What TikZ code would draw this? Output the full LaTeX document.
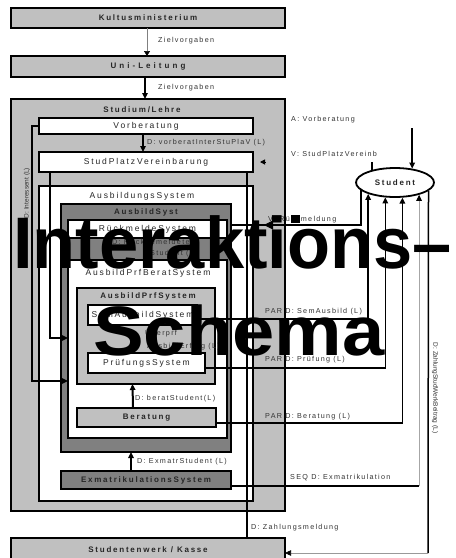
\documentclass[tikz,border=0pt]{standalone}
\usepackage{fontspec}
\usetikzlibrary{arrows.meta,shapes.geometric,calc}
\newfontfamily\boxfont[LetterSpace=22]{Liberation Sans}
\newfontfamily\lblfont[LetterSpace=18]{Liberation Sans}
\newfontfamily\sidefont{Liberation Sans}
\newfontfamily\bigfont{Liberation Sans}
\definecolor{lgray}{HTML}{C0C0C0}
\definecolor{dgray}{HTML}{808080}
\definecolor{txtgray}{HTML}{333333}
\begin{document}
\begin{tikzpicture}[x=1pt,y=-1pt,
  sys/.style 2 args={draw=black,line width=1.8pt,minimum width=#1,minimum height=#2,inner sep=0pt,outer sep=0pt},
  ttl/.style={font=\boxfont\bfseries\fontsize{8}{9}\selectfont,text=black!85},
  nrm/.style={font=\boxfont\fontsize{8.5}{10}\selectfont,text=black!85},
  lbl/.style={font=\lblfont\fontsize{7.2}{8}\selectfont,text=txtgray,anchor=west,inner sep=0pt},
  side/.style={font=\sidefont\fontsize{6.5}{8}\selectfont,text=txtgray,inner sep=0pt},
  tip/.style={-{Triangle[length=6pt,width=5.5pt]}},
  conn/.style={line width=1.5pt,draw=black},
  bigtxt/.style={font=\bigfont\bfseries\fontsize{73}{73}\selectfont,anchor=base west,inner sep=0pt,transform shape}
]
\useasboundingbox (0,0) rectangle (456,558);
\fill[white] (0,0) rectangle (456,558);

% top level institutions
\node[sys={274}{20},fill=lgray,ttl] (kultus) at (148,18) {Kultusministerium};
\node[sys={274}{21},fill=lgray,ttl] (uni) at (148,66.5) {\addfontfeature{LetterSpace=38}Uni-Leitung};

% Studium/Lehre with its subsystems
\node[sys={274}{412},fill=lgray] (studium) at (148,305) {};
\node[ttl] (studium-t) at (142,110) {Studium/Lehre};
\node[sys={214}{16},fill=white,nrm] (vorb) at (146,126) {Vorberatung};
\node[sys={214}{20},fill=white,nrm] (studplatz) at (146,162) {StudPlatzVereinbarung};
\node[sys={214}{315},fill=white] (ausb) at (146,343.5) {};
\node[nrm] (ausb-t) at (142,196) {AusbildungsSystem};
\node[sys={170}{248},fill=dgray] (ausbsyst) at (146,328) {};
\node[ttl] (ausbsyst-t) at (146,212) {AusbildSyst};
\node[sys={159}{18},fill=white,nrm] (rueck) at (147.5,229) {RückmeldeSystem};
\node[lbl] (rueck-l1) at (112,243) {D: Rückgemeldeter};
\node[lbl] (rueck-l2) at (150,254) {Student (L)};
\node[sys={159}{178},fill=white] (prfberat) at (147.5,349) {};
\node[nrm] (prfberat-t) at (148,273) {AusbildPrfBeratSystem};
\node[sys={138}{96},fill=lgray] (prfsys) at (146,336) {};
\node[ttl] (prfsys-t) at (148,296) {AusbildPrfSystem};
\node[sys={109}{20},fill=white,nrm] (semaus) at (142.5,315) {SemAusbildSystem};
\node[lbl] (ueb-l1) at (145,333) {Überprf};
\node[lbl] (ueb-l2) at (147,347) {AusbildErfolg (L)};
\node[sys={117}{20},fill=white,nrm] (pruef) at (146.5,363) {PrüfungsSystem};
\node[sys={139}{19},fill=lgray,ttl] (berat) at (146.5,417.5) {Beratung};
\node[sys={170}{18},fill=dgray,ttl] (exmatr) at (146,480) {ExmatrikulationsSystem};
\node[sys={274}{24},fill=lgray,ttl] (stw) at (148,550) {Studentenwerk / Kasse};

\node[ellipse,draw=black,line width=1.8pt,minimum width=78,minimum height=29,inner sep=0pt,fill=white,ttl] (student) at (395,182.5) {Student};

% goals from above
\draw[line width=0.6pt,draw=gray,-{Triangle[length=5pt,width=6pt,color=black]}] ([xshift=-1pt]kultus.south) -- ([xshift=-1pt]uni.north);
\node[lbl] (zv1) at (158,41) {Zielvorgaben};
\draw[line width=2.6pt,tip] ([xshift=-3pt]uni.south) -- ([xshift=-3pt]studium.north);
\node[lbl] (zv2) at (158,88) {Zielvorgaben};

\draw[conn,tip] ([xshift=-3pt]vorb.south) -- ([xshift=-3pt]studplatz.north);
\node[lbl] (vorb-l) at (147,143) {D: vorberatInterStuPlaV (L)};

% student interactions (top)
\coordinate (sin) at (411,128);
\draw[conn,tip] (student.39.5 |- sin) -- (student.39.5);
\node[lbl] (a-vorb) at (291,120) {A: Vorberatung};
\node[lbl] (v-stud) at (291,154) {V: StudPlatzVereinb};
\coordinate (sv) at (373,162);
\draw[conn] (student.151.4) -- (student.151.4 |- sv);
\coordinate (svtip) at (260,162);
\draw[line width=1pt,{Triangle[length=5pt,width=5pt]}-] (svtip) -- ++(5,0);

% left feeds into the training system
\coordinate (l1) at (32,381);
\draw[conn,tip] (vorb.west) -| (l1) -- (l1 -| prfberat.west);
\node[side,rotate=90] (interessent) at (27,193) {D: Interessent (L)};
\coordinate (l2) at (50,338);
\draw[conn,tip] (studplatz.south -| l2) -- (l2) -- (l2 -| prfberat.west);

% inner arrows
\draw[line width=2pt,tip] ([xshift=-13.5pt]berat.north) -- ([xshift=-13.5pt]prfsys.south);
\node[lbl] (berat-l) at (135,399) {D: beratStudent(L)};
\draw[line width=2pt,tip] ([xshift=-15pt]exmatr.north) -- ([xshift=-15pt]ausbsyst.south);
\node[lbl] (exmatr-l) at (137,462) {D: ExmatrStudent (L)};

% right side: exchanges with the student
\coordinate (rk) at ([yshift=4pt]rueck.east);
\draw[conn] (rk -| ausbsyst.east) -| (student.193.1);
\coordinate (rktip) at (264,225);
\draw[line width=1pt,{Triangle[length=9pt,width=9pt]}-] (rktip) -- ++(9,0);
\node[lbl] (rueck-l) at (268,220) {V: Rückmeldung};
\fill[black] (291,215) rectangle (300,223);
\draw[conn,tip] ([yshift=-4pt]semaus.east) -| (student.203.9);
\node[lbl] (sem-l) at (265,312) {PAR D: SemAusbild (L)};
\draw[conn,tip] ([yshift=-5pt]pruef.east) -| (student.237.5);
\node[lbl] (pruef-l) at (265,360) {PAR D: Prüfung (L)};
\draw[conn,tip] ([yshift=-5.5pt]berat.east) -| (student.296.1);
\node[lbl] (berat-r) at (265,417) {PAR D: Beratung (L)};
\coordinate (exo) at ([yshift=-6pt]exmatr.east);
\coordinate (exc) at (exo -| student.333);
\draw[conn] (exo) -- (exc);
\draw[line width=0.8pt,draw=black!35,-{Triangle[length=6pt,width=5.5pt,color=black]}] (exc) -- (student.333);
\node[lbl] (exmatr-r) at (290,478) {SEQ D: Exmatrikulation};

% payments
\coordinate (zc) at (428,553);
\draw[conn] (student.346.9) -- (zc);
\draw[line width=0.6pt,draw=black!40,-{Triangle[length=6pt,width=5.5pt,color=black]}] (zc) -- (zc -| stw.east);
\node[side,rotate=-90] (zahl-l) at (435,388) {D: ZahlungStudWerkBeitrag (L)};
\coordinate (zm) at (247,172);
\draw[conn] (zm) -- (zm |- stw.north);
\node[lbl] (zm-l) at (251,528) {D: Zahlungsmeldung};

% headline
\begin{scope}[shift={(13,268)},xscale=0.965]
  \node[bigtxt] (head1) at (0,0) {Interaktions–};
\end{scope}
\begin{scope}[shift={(93,355)},xscale=1.085]
  \node[bigtxt,font=\bigfont\bfseries\fontsize{70}{70}\selectfont] (head2) at (0,0) {Schema};
\end{scope}
\end{tikzpicture}
\end{document}
